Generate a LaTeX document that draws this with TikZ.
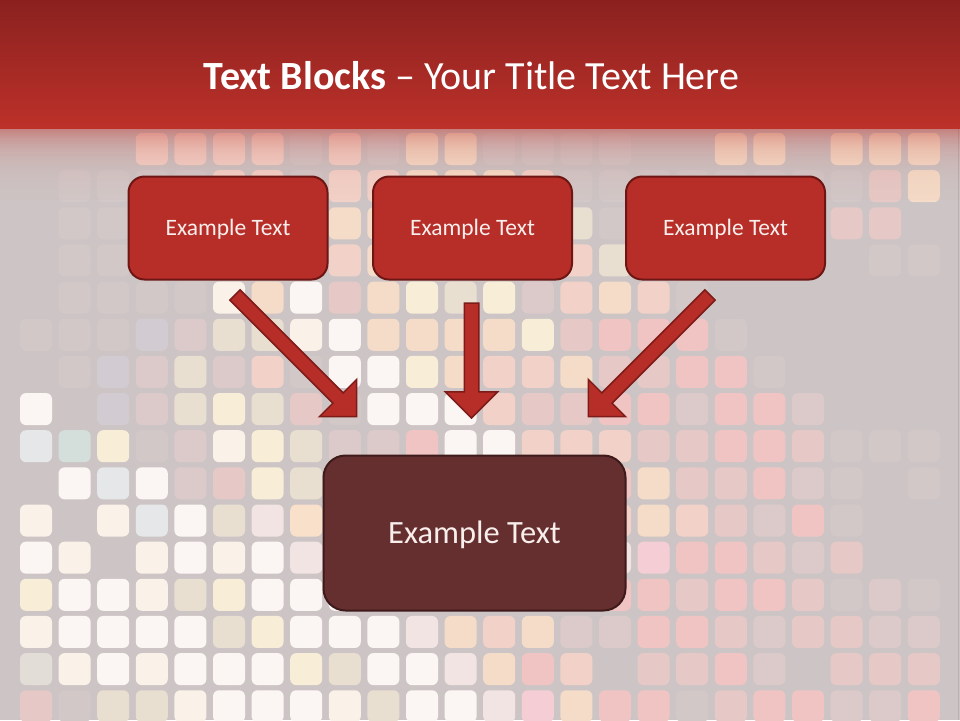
\documentclass[tikz,border=0pt]{standalone}
\usepackage{fontspec}
\setmainfont{Carlito}
\usetikzlibrary{shapes.arrows}
\definecolor{bgc}{RGB}{205,197,197}
\definecolor{tilen}{RGB}{205,197,197}
\definecolor{tileg}{RGB}{210,200,200}
\definecolor{tiled}{RGB}{220,202,202}
\definecolor{tilem}{RGB}{230,201,198}
\definecolor{tiler}{RGB}{241,196,196}
\definecolor{tilek}{RGB}{245,205,213}
\definecolor{tilep}{RGB}{242,210,200}
\definecolor{tilet}{RGB}{244,220,200}
\definecolor{tileo}{RGB}{248,224,202}
\definecolor{tiley}{RGB}{248,237,214}
\definecolor{tilec}{RGB}{250,241,232}
\definecolor{tilew}{RGB}{251,246,244}
\definecolor{tileb}{RGB}{233,223,208}
\definecolor{tilel}{RGB}{242,228,226}
\definecolor{tilee}{RGB}{229,231,232}
\definecolor{tiles}{RGB}{212,222,219}
\definecolor{tilev}{RGB}{210,203,210}
\definecolor{tileh}{RGB}{227,221,216}
\definecolor{hdrtop}{RGB}{138,33,31}
\definecolor{hdrbot}{RGB}{189,49,42}
\definecolor{boxred}{RGB}{183,46,41}
\definecolor{boxline}{RGB}{110,22,20}
\definecolor{arrowline}{RGB}{125,27,24}
\definecolor{darkbox}{RGB}{101,47,47}
\definecolor{darkline}{RGB}{62,26,26}
\definecolor{boxtext}{RGB}{248,238,236}
\definecolor{edgeline}{RGB}{186,178,178}
\tikzset{
  tilebox/.style={rounded corners=6pt},
  topbox/.style={rectangle, rounded corners=16pt, fill=boxred, draw=boxline,
    line width=2pt, minimum width=199pt, minimum height=103pt, inner sep=0pt,
    text=boxtext, font=\fontsize{23.5}{28}\selectfont,
    text height=25pt, text depth=10pt},
  bottombox/.style={rectangle, rounded corners=22pt, fill=darkbox, draw=darkline,
    line width=2pt, minimum width=302pt, minimum height=155pt, inner sep=0pt,
    text=boxtext, font=\fontsize{32.5}{38}\selectfont,
    text height=31pt, text depth=10pt},
  blockarrow/.style={single arrow, draw=arrowline, fill=boxred, line width=1.5pt,
    inner xsep=0pt, inner ysep=6.5pt, single arrow head extend=19pt,
    single arrow tip angle=90, outer sep=0pt},
  titletext/.style={text=white, font=\fontsize{40}{46}\selectfont, inner sep=0pt}
}
\begin{document}
\begin{tikzpicture}[x=1pt,y=-1pt]
\useasboundingbox (0,0) rectangle (960,720);
\fill[bgc] (0,0) rectangle (960,720);
% mosaic tiles
\foreach \row [count=\j from 0] in {
 {n,n,n,p,p,p,p,g,p,g,t,t,g,g,g,g,n,n,t,t,n,t,t,t},
 {n,g,g,g,g,p,p,g,p,p,t,t,t,p,g,g,g,g,g,g,g,g,m,t},
 {n,g,g,g,g,g,g,g,t,t,t,p,b,b,b,g,g,g,g,g,g,m,m,n},
 {n,g,g,g,g,g,g,g,p,t,y,b,d,d,p,b,g,g,g,g,g,n,g,g},
 {n,g,g,g,g,c,t,w,m,t,y,b,y,d,p,t,p,g,n,n,n,n,n,n},
 {g,g,g,v,d,b,b,c,w,t,t,t,t,y,m,r,r,r,g,n,n,n,n,n},
 {n,g,v,d,b,d,p,g,w,w,y,t,p,p,t,m,m,r,r,g,n,n,n,n},
 {w,n,v,d,b,y,b,m,g,w,w,w,p,m,m,r,r,d,r,r,d,n,n,n},
 {e,s,y,g,d,c,y,b,d,d,r,w,w,p,p,p,m,m,r,r,m,g,g,g},
 {n,w,e,w,d,m,y,b,b,c,t,p,t,p,r,r,t,m,m,r,d,g,n,g},
 {c,n,c,e,w,b,l,o,y,b,t,p,t,p,p,p,t,p,m,d,r,g,n,n},
 {w,c,n,c,w,c,w,l,w,c,t,p,t,p,r,l,k,r,r,m,d,m,n,n},
 {y,w,w,c,b,y,w,w,w,w,y,t,t,p,p,r,r,m,r,r,m,g,d,g},
 {c,w,w,w,w,b,y,w,w,w,l,t,p,t,d,d,r,r,m,d,m,m,d,d},
 {h,c,w,c,w,w,w,y,b,w,w,l,t,r,p,n,m,m,r,d,n,m,m,m},
 {m,g,b,b,c,w,w,w,c,b,w,w,l,k,t,r,r,g,m,r,r,d,d,r}} {
  \foreach \c [count=\k from 0] in \row {
    \fill[tilebox, fill=tile\c] ({20+38.6*\k},{133+37.15*\j}) rectangle ++(32,32);
  }
}
% right edge line
\draw[edgeline, line width=1pt] (958.5,128) -- (958.5,720);
% header fade
\foreach \i in {0,...,35} {
  \pgfmathsetmacro\op{0.47*exp(-2*\i/20)}
  \fill[hdrbot, opacity=\op] (0,{128+2*\i}) rectangle (960,{130+2*\i});
}
% header
\shade[top color=hdrtop, bottom color=hdrbot] (0,0) rectangle (960,128.5);
\node[titletext] (title) at (471.5,75.5) {\textbf{Text Blocks} – Your Title Text Here};
% boxes
\node[topbox] (b1) at (228,228) {Example Text};
\node[topbox] (b2) at (472.5,228) {Example Text};
\node[topbox] (b3) at (725.5,228) {Example Text};
\node[bottombox] (b4) at (474.5,533) {Example Text};
% arrows
\coordinate (s1) at (235,295);
\coordinate (s2) at (471.5,303);
\coordinate (s3) at (710,295);
\node[blockarrow, minimum height=172pt, rotate=-45, anchor=tail] (a1) at (s1) {};
\node[blockarrow, minimum height=115pt, rotate=-90, anchor=tail] (a2) at (s2) {};
\node[blockarrow, minimum height=172pt, rotate=-135, anchor=tail] (a3) at (s3) {};
\end{tikzpicture}
\end{document}
